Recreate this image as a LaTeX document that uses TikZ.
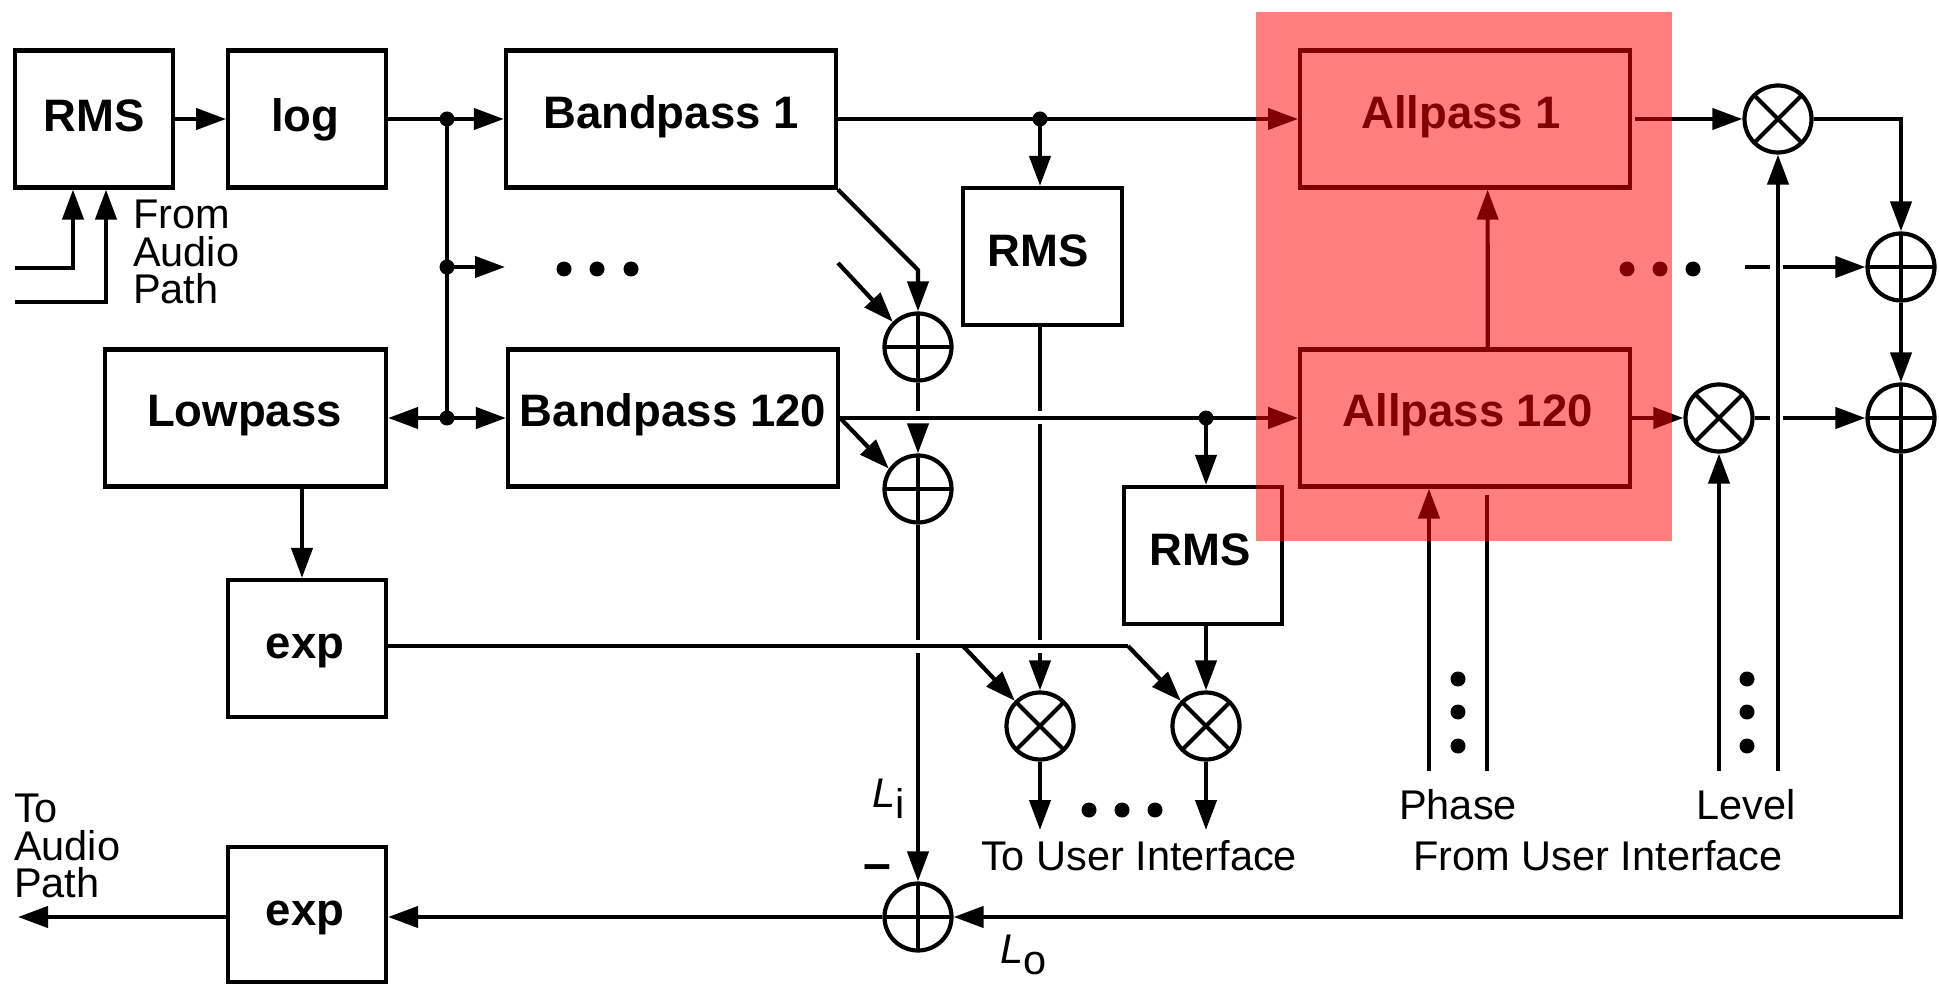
\documentclass[tikz,border=0pt]{standalone}
\usepackage{fontspec}
\setmainfont{Liberation Sans}
\usetikzlibrary{arrows.meta, positioning}

\begin{document}
\begin{tikzpicture}[
        x=1pt, y=-1pt, line width=4.2pt,
        box/.style={draw, rectangle, minimum height=137pt, inner sep=0pt, text height=33pt, text depth=13pt, font=\fontsize{45.5}{45.5}\selectfont\bfseries},
        sumnode/.style={draw, circle, minimum size=67pt, inner sep=0pt, path picture={\draw (path picture bounding box.north) -- (path picture bounding box.south) (path picture bounding box.west) -- (path picture bounding box.east);}},
        mulnode/.style={draw, circle, minimum size=67pt, inner sep=0pt, path picture={\draw (path picture bounding box.north west) -- (path picture bounding box.south east) (path picture bounding box.north east) -- (path picture bounding box.south west);}},
        dotnode/.style={circle, fill=black, inner sep=0pt, minimum size=15pt},
        note/.style={inner sep=0pt, align=left, font=\fontsize{41.5}{37.5}\selectfont},
        line/.style={line join=miter},
        arrow/.style={-{Triangle[length=30pt,width=21pt]}, line join=miter}
    ]
        \useasboundingbox (0,0) rectangle (1939,984);

        \node[box, minimum width=158pt, text depth=8pt] (rmsa) at (94,119) {RMS};
        \node[box, minimum width=158pt, right=51pt of rmsa, text depth=8pt] (loga) {log\kern4pt};
        \node[box, minimum width=330pt, right=115.5pt of loga] (bpa) {Bandpass 1};
        \node[box, minimum width=330pt, right=460pt of bpa] (apa) {Allpass 1\kern8pt};
        \node[box, minimum width=281pt, text depth=17pt] (lowp) at (245.5,418) {Lowpass\kern2pt};
        \node[box, minimum width=330pt, text depth=16pt] (bpb) at (673,418) {Bandpass 120};
        \node[box, minimum width=330pt, right=458pt of bpb, text depth=16pt] (apb) {\kern5pt Allpass 120};
        \node[box, minimum width=159pt, text depth=12pt] (rmsb) at (1042.5,256.5) {RMS\kern9pt};
        \node[box, minimum width=158pt] (rmsc) at (1203,555.5) {RMS\kern5pt};
        \node[box, minimum width=158pt] (expa) at (307,648.5) {exp\kern4pt};
        \node[box, minimum width=158pt, minimum height=135pt, text depth=12pt] (expb) at (307,914.5) {exp\kern4pt};

        \node[sumnode] (pa) at (918,347) {};
        \node[sumnode] (pb) at (918,489) {};
        \node[sumnode] (pc) at (1901,267) {};
        \node[sumnode] (pd) at (1901,418) {};
        \node[sumnode] (pe) at (918,917) {};
        \node[mulnode] (ma) at (1778,119) {};
        \node[mulnode] (mb) at (1719,418) {};
        \node[mulnode] (mc) at (1040,726) {};
        \node[mulnode] (md) at (1206,726) {};

        \node[dotnode] (ja) at (447,119) {};
        \node[dotnode] (jb) at (447,267) {};
        \node[dotnode] (jc) at (447,418) {};
        \node[dotnode] (jd) at (1040,119) {};
        \node[dotnode] (je) at (1206,418) {};

        \foreach \x in {564,597,631} \node[dotnode] (la\x) at (\x,269) {};
        \foreach \x in {1627,1660,1693} \node[dotnode] (lb\x) at (\x,269) {};
        \foreach \x in {1089,1122,1155} \node[dotnode] (lc\x) at (\x,810) {};
        \foreach \y in {679,712,746} {
            \node[dotnode] (ld\y) at (1458,\y) {};
            \node[dotnode] (le\y) at (1747,\y) {};
        }

        \node[note, anchor=west] (fromaudio) at (131,252) {From\\Audio\\Path};
        \node[note, anchor=west] (toaudio) at (12,846) {To\\Audio\\Path};
        \node[note] (phase) at (1458,805) {Phase};
        \node[note] (level) at (1746,805) {Level};
        \node[note] (fromui) at (1598,856) {From User Interface};
        \node[note] (toui) at (1139,856) {To User Interface};
        \node[note, anchor=base west] (li) at (870,807) {\textit{L}\raisebox{-11pt}{i}};
        \node[note, anchor=base west] (lo) at (998,963) {\textit{L}\raisebox{-11pt}{o}};
        \node[inner sep=0pt, anchor=base, font=\fontsize{50}{50}\selectfont\bfseries] (minus) at (877,880) {–};

        \coordinate (ina) at (15,268);
        \coordinate (inb) at (15,302);
        \coordinate (ska) at (838,263);
        \coordinate (bra) at (918,270);
        \coordinate (brb) at (963,646);
        \coordinate (brc) at (1128,646);
        \coordinate (outa) at (18,917);
        \coordinate (outb) at (1040,830);
        \coordinate (outc) at (1206,830);
        \coordinate (brd) at (505,267);
        \coordinate (pha) at (1429,771);
        \coordinate (phb) at (1487,771);
        \coordinate (lva) at (1719,771);
        \coordinate (lvb) at (1778,771);
        \coordinate (dsh) at (1745,267);
        \coordinate (cra) at (918,418);
        \coordinate (crb) at (1040,418);
        \coordinate (crc) at (918,646);
        \coordinate (crd) at (1040,646);
        \coordinate (cre) at (1778,267);
        \coordinate (crf) at (1778,418);

        \draw[arrow] (ina) -| ([xshift=-21pt]rmsa.south);
        \draw[arrow] (inb) -| ([xshift=12pt]rmsa.south);
        \draw[arrow] (rmsa) -- (loga);
        \draw[arrow] (loga) -- (bpa);
        \draw[line] (ja.center) -- (jc.center);
        \draw[arrow] (jb.center) -- (brd);
        \draw[arrow] (jc.center) -- (lowp);
        \draw[arrow] (jc.center) -- (bpb);
        \draw[arrow] ([xshift=56.5pt]lowp.south) -- ([xshift=-5pt]expa.north);

        \draw[arrow] (bpa.south east) -- (bra) -- (pa.north);
        \draw[arrow] (ska) -- (pa.135);
        \draw[line] (pa.south) -- ([yshift=7pt]cra);
        \draw[arrow] ([yshift=-6pt]cra) -- (pb.north);
        \draw[arrow] (bpb.east) -- (pb.145);
        \draw[line] (pb.south) -- ([yshift=6pt]crc);
        \draw[arrow] ([yshift=-7pt]crc) -- (pe.north);

        \draw[arrow] (bpa) -- (apa);
        \draw[arrow] (jd.center) -- (rmsb.north -| jd);
        \draw[arrow] (bpb) -- (apb);
        \draw[arrow] (je.center) -- (rmsc.north -| je);
        \draw[line] (rmsb.south -| crb) -- ([yshift=7pt]crb);
        \draw[line] ([yshift=-6pt]crb) -- ([yshift=6pt]crd);
        \draw[arrow] ([yshift=-7pt]crd) -- (mc.north);
        \draw[arrow] (rmsc.south -| md) -- (md.north);
        \draw[arrow] (mc.south) -- (outb);
        \draw[arrow] (md.south) -- (outc);
        \draw[line] (expa.east |- brc) -- (brc);
        \draw[arrow] (brc) -- (md.135);
        \draw[arrow] (brb) -- (mc.135);

        \draw[arrow] ([xshift=3pt]apa.east) -- (ma);
        \draw[arrow] (apb) -- (mb);
        \draw[arrow] ([xshift=22.5pt]apb.north) -- ([xshift=22.5pt]apa.south);
        \draw[arrow] (pha) -- (apb.south -| pha);
        \draw[line] (phb) -- ([yshift=-6pt]apb.south -| phb);
        \draw[arrow] (lva) -- (mb.south);
        \draw[arrow] (lvb) -- (ma.south);
        \draw[arrow] (ma.east) -| (pc.north);
        \draw[line] (dsh) -- ([xshift=-8pt]cre);
        \draw[arrow] ([xshift=5pt]cre) -- (pc.west);
        \draw[line] (mb.east) -- ([xshift=-8pt]crf);
        \draw[arrow] ([xshift=5pt]crf) -- (pd.west);
        \draw[arrow] (pc.south) -- (pd.north);
        \draw[arrow] (pd.south) |- (pe.east);
        \draw[arrow] (pe.west) -- (pe -| expb.east);
        \draw[arrow] (pe -| expb.west) -- (outa);

        \fill[red, opacity=0.5] (1256,12) rectangle (1672,541);
    \end{tikzpicture}
\end{document}
